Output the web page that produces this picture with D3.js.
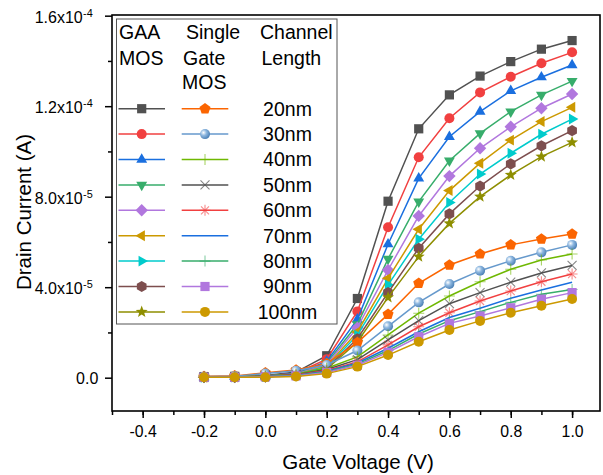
<!DOCTYPE html>
<html>
<head>
<meta charset="utf-8">
<script src="https://cdn.jsdelivr.net/npm/d3@7"></script>
<style>
body{margin:0;background:#fff;}
svg{font-family:"Liberation Sans",Arial,sans-serif;}
</style>
</head>
<body>
<div class="container"></div>
<script>
// gate voltage (V) and drain current, currents in units of 1e-5 A
var voltage=[-0.2,-0.1,0.0,0.1,0.2,0.3,0.4,0.5,0.6,0.7,0.8,0.9,1.0];
var lengths=["20nm","30nm","40nm","50nm","60nm","70nm","80nm","90nm","100nm"];

// GAA MOS
var gaa20 =[0.05,0.06,0.10,0.25,0.97,3.50,7.80,11.00,12.50,13.33,13.97,14.52,14.90];
var gaa30 =[0.04,0.05,0.08,0.20,0.82,2.93,6.65,9.74,11.47,12.61,13.30,13.90,14.38];
var gaa40 =[0.03,0.04,0.07,0.18,0.72,2.58,5.90,8.81,10.65,11.76,12.68,13.28,13.82];
var gaa50 =[0.03,0.04,0.06,0.16,0.64,2.36,5.25,7.78,9.59,10.80,11.76,12.50,13.11];
var gaa60 =[0.03,0.03,0.06,0.15,0.58,2.21,4.76,7.15,8.91,10.14,11.09,11.91,12.54];
var gaa70 =[0.02,0.03,0.05,0.14,0.52,2.02,4.39,6.56,8.27,9.48,10.50,11.32,11.95];
var gaa80 =[0.02,0.03,0.05,0.13,0.47,1.88,4.10,6.12,7.74,9.00,9.92,10.76,11.43];
var gaa90 =[0.02,0.02,0.04,0.12,0.42,1.72,3.76,5.72,7.24,8.47,9.45,10.25,10.92];
var gaa100=[0.02,0.02,0.04,0.11,0.38,1.58,3.55,5.35,6.82,8.00,8.96,9.77,10.40];

// Single gate MOS
var sg20 =[0.05,0.08,0.22,0.34,0.62,1.55,2.80,4.17,4.98,5.47,5.87,6.13,6.35];
var sg30 =[0.04,0.06,0.18,0.31,0.56,1.20,2.27,3.33,4.14,4.73,5.17,5.54,5.87];
var sg40 =[0.02,0.03,0.08,0.15,0.42,0.92,1.89,2.85,3.61,4.24,4.79,5.20,5.47];
var sg50 =[0.02,0.03,0.07,0.13,0.36,0.80,1.67,2.52,3.27,3.76,4.22,4.63,4.96];
var sg60 =[0.02,0.02,0.06,0.12,0.32,0.70,1.45,2.25,2.87,3.39,3.83,4.24,4.58];
var sg70 =[0.02,0.02,0.05,0.10,0.29,0.65,1.30,2.03,2.66,3.07,3.51,3.88,4.22];
var sg80 =[0.02,0.02,0.05,0.09,0.26,0.60,1.20,1.93,2.52,2.92,3.33,3.69,3.90];
var sg90 =[0.02,0.02,0.04,0.08,0.23,0.55,1.12,1.81,2.40,2.73,3.09,3.47,3.76];
var sg100=[0.02,0.02,0.02,0.05,0.18,0.49,1.00,1.59,2.11,2.51,2.87,3.18,3.48];

var yTicks=[0,4,8,12,16];
var yTickLabels=[["0.0",""],["4.0x10","-5"],["8.0x10","-5"],["1.2x10","-4"],["1.6x10","-4"]];
var xTicks=[-0.4,-0.2,0.0,0.2,0.4,0.6,0.8,1.0];

var gaaSeries=[gaa20,gaa30,gaa40,gaa50,gaa60,gaa70,gaa80,gaa90,gaa100];
var sgSeries=[sg20,sg30,sg40,sg50,sg60,sg70,sg80,sg90,sg100];

// styles
var gaaColors=["#515151","#F14040","#1A6FDF","#37AD6B","#B177DE","#CC9900","#00CBCC","#7D4E4E","#8E8E00"];
var gaaMarkers=["square","circle","up","down","diamond","left","right","hexagon","star"];
var sgColors=["#FB6501","#6699CC","#6FB802","#515151","#F14040","#1A6FDF","#37AD6B","#B177DE","#CC9900"];
var sgMarkers=["pentagon","sphere","plus","cross","asterisk","none","plus","square","circle"];

var width=603, height=475;
var margin={left:112,right:3,top:15,bottom:64};

var svg=d3.select(".container").append("svg").attr("width",width).attr("height",height);

var x=d3.scaleLinear().domain([-0.5,1.091]).range([margin.left,width-margin.right]);
var y=d3.scaleLinear().domain([-1.472,16.03]).range([height-margin.bottom,margin.top]);

var defs=svg.append("defs");
var grad=defs.append("radialGradient").attr("id","sphere").attr("cx","35%").attr("cy","35%").attr("r","65%");
grad.append("stop").attr("offset","0%").attr("stop-color","#ffffff");
grad.append("stop").attr("offset","45%").attr("stop-color","#8fb8e0");
grad.append("stop").attr("offset","100%").attr("stop-color","#4f83b8");

function poly(n,r,rot){
    var p=[];
    for(var i=0;i<n;i++){
        var a=rot+i*2*Math.PI/n;
        p.push((r*Math.cos(a)).toFixed(2)+","+(r*Math.sin(a)).toFixed(2));
    }
    return "M"+p.join("L")+"Z";
}
function star(r){
    var p=[];
    for(var i=0;i<10;i++){
        var a=-Math.PI/2+i*Math.PI/5, rr=(i%2==0)?r:r*0.42;
        p.push((rr*Math.cos(a)).toFixed(2)+","+(rr*Math.sin(a)).toFixed(2));
    }
    return "M"+p.join("L")+"Z";
}

function drawMarker(g,type,color,cx,cy){
    var t="translate("+cx+","+cy+")";
    if(type=="none") return;
    if(type=="circle"){
        g.append("circle").attr("cx",cx).attr("cy",cy).attr("r",5).attr("fill",color);
        return;
    }
    if(type=="sphere"){
        g.append("circle").attr("cx",cx).attr("cy",cy).attr("r",5).attr("fill","url(#sphere)");
        return;
    }
    var d, stroke=false, op=1;
    if(type=="square") d="M-4.6,-4.6H4.6V4.6H-4.6Z";
    if(type=="up") d=poly(3,6.3,-Math.PI/2);
    if(type=="down") d=poly(3,6.3,Math.PI/2);
    if(type=="left") d=poly(3,6.3,Math.PI);
    if(type=="right") d=poly(3,6.3,0);
    if(type=="diamond") d=poly(4,6.2,0);
    if(type=="hexagon") d=poly(6,5.6,-Math.PI/2);
    if(type=="pentagon") d=poly(5,5.8,-Math.PI/2);
    if(type=="star") d=star(6.3);
    if(type=="plus"){ d="M-5.5,0H5.5M0,-5.5V5.5"; stroke=true; op=0.6; }
    if(type=="cross"){ d="M-4.5,-4.5L4.5,4.5M-4.5,4.5L4.5,-4.5"; stroke=true; op=0.7; }
    if(type=="asterisk"){ d="M-5.5,0H5.5M0,-5.5V5.5M-4,-4L4,4M-4,4L4,-4"; stroke=true; op=0.6; }
    var p=g.append("path").attr("d",d).attr("transform",t);
    if(stroke) p.attr("fill","none").attr("stroke",color).attr("stroke-width",1.1).attr("opacity",op);
    else p.attr("fill",color);
}

var line=d3.line().x(function(d,i){return x(voltage[i]);}).y(function(d){return y(d);});

var plot=svg.append("g");
function drawSeries(data,color,marker){
    var g=plot.append("g");
    g.append("path").datum(data).attr("d",line).attr("fill","none").attr("stroke",color).attr("stroke-width",1.5);
    data.forEach(function(d,i){ drawMarker(g,marker,color,x(voltage[i]),y(d)); });
}
gaaSeries.forEach(function(s,i){ drawSeries(s,gaaColors[i],gaaMarkers[i]); });
sgSeries.forEach(function(s,i){ drawSeries(s,sgColors[i],sgMarkers[i]); });

// axes
var x0=margin.left, x1=width-margin.right, y0=height-margin.bottom, y1=margin.top;
var xAxis=d3.axisBottom(x).tickValues(xTicks).tickSize(7).tickFormat(function(d){ return d3.format(".1f")(d).replace("\u2212","-"); });
var xMinor=d3.axisBottom(x).tickValues(d3.range(-0.5,1.05,0.1)).tickSize(4).tickFormat("");
var yAxis=d3.axisLeft(y).tickValues(yTicks).tickSize(7).tickFormat("");
var yMinor=d3.axisLeft(y).tickValues([2,6,10,14]).tickSize(4).tickFormat("");

function styleAxis(g){
    g.select(".domain").remove();
    g.selectAll(".tick line").attr("stroke","#000").attr("stroke-width",1.5);
    g.selectAll(".tick text").attr("font-size","15.8px").attr("fill","#000").attr("font-family","'Liberation Sans',Arial,sans-serif");
}
svg.append("g").attr("transform","translate(0,"+y0+")").call(xMinor).call(styleAxis);
svg.append("g").attr("transform","translate(0,"+y0+")").call(xAxis).call(styleAxis)
    .selectAll(".tick text").attr("dy",null).attr("y",25.7);
svg.append("g").attr("transform","translate("+x0+",0)").call(yMinor).call(styleAxis);
var yg=svg.append("g").attr("transform","translate("+x0+",0)").call(yAxis).call(styleAxis);
yg.selectAll(".tick").each(function(d,i){
    var lab=yTickLabels[i];
    var tk=d3.select(this);
    if(lab[1]==""){
        tk.append("text").attr("x",-13.7).attr("y",5.8).attr("text-anchor","end")
            .attr("font-size","16px").attr("fill","#000").text(lab[0]);
    } else {
        tk.append("text").attr("x",-29.3).attr("y",6.5).attr("text-anchor","end")
            .attr("font-size","16px").attr("fill","#000").text(lab[0]);
        tk.append("text").attr("x",-29).attr("y",0.5).attr("text-anchor","start")
            .attr("font-size","10.9px").attr("fill","#000").text(lab[1]);
    }
});

// frame
svg.append("rect").attr("x",x0).attr("y",y1).attr("width",x1-x0).attr("height",y0-y1)
    .attr("fill","none").attr("stroke","#000").attr("stroke-width",1.6);

// axis titles
svg.append("text").attr("x",358).attr("y",469).attr("text-anchor","middle")
    .attr("font-size","20.5px").attr("fill","#000").text("Gate Voltage (V)");
svg.append("text").attr("transform","translate(31,212) rotate(-90)").attr("text-anchor","middle")
    .attr("font-size","20.5px").attr("fill","#000").text("Drain Current (A)");

// legend
var leg=svg.append("g");
leg.append("rect").attr("x",116.5).attr("y",19).attr("width",220.5).attr("height",305)
    .attr("fill","#fff").attr("stroke","#555").attr("stroke-width",1);
var headers=[["GAA",119,39.3],["MOS",119,65],["Single",186,39.3],["Gate",183,65],["MOS",182,89.3],["Channel",260,39.3],["Length",261.5,65]];
headers.forEach(function(h){
    leg.append("text").attr("x",h[1]).attr("y",h[2]).attr("font-size","19.5px").attr("fill","#000").text(h[0]);
});
lengths.forEach(function(l,i){
    var cy=108.7+i*25.4;
    var g=leg.append("g");
    g.append("line").attr("x1",118.5).attr("x2",165).attr("y1",cy).attr("y2",cy).attr("stroke",gaaColors[i]).attr("stroke-width",1.5);
    drawMarker(g,gaaMarkers[i],gaaColors[i],141.7,cy);
    g.append("line").attr("x1",181.7).attr("x2",228.3).attr("y1",cy).attr("y2",cy).attr("stroke",sgColors[i]).attr("stroke-width",1.5);
    drawMarker(g,sgMarkers[i],sgColors[i],205,cy);
    g.append("text").attr("x",287.5).attr("y",cy+6.8).attr("text-anchor","middle").attr("font-size","19.5px").attr("fill","#000").text(l);
});
</script>
</body>
</html>
